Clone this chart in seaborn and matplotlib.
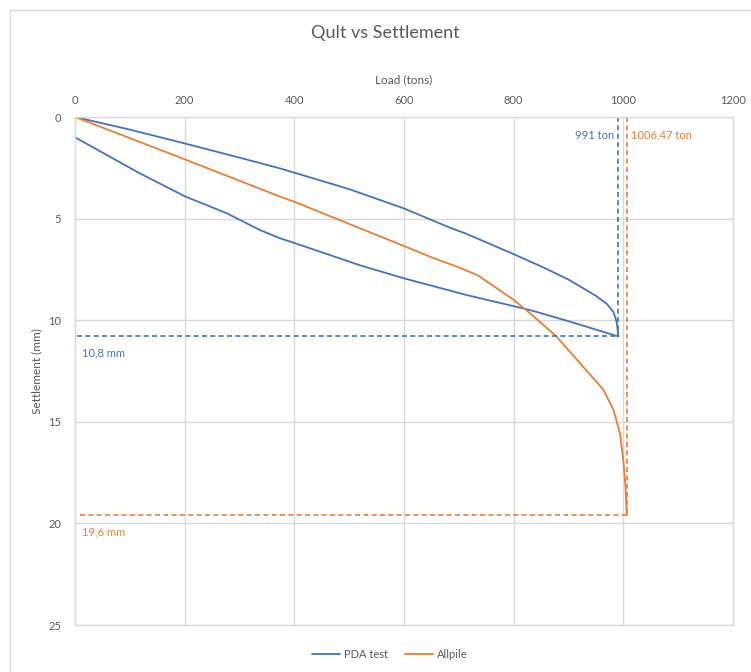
import pandas as pd
import numpy as np
import matplotlib
matplotlib.use("Agg")
import matplotlib.pyplot as plt
import seaborn as sns
from matplotlib.patches import Rectangle

# PDA test: loading branch then unloading branch (load in tons, settlement in mm)
pda_load = [0, 0, 100, 200, 300, 374, 400, 500, 600, 684, 714, 800, 850, 900,
            927, 950, 970, 982, 988, 991,
            900, 830, 714, 600, 520, 400, 374, 337, 277, 200, 118, 0]
pda_settle = [1.0, 0, 0.62, 1.3, 2.0, 2.53, 2.74, 3.55, 4.5, 5.45, 5.75, 6.75, 7.35, 8.0,
              8.43, 8.8, 9.2, 9.6, 10.1, 10.8,
              10.05, 9.5, 8.76, 7.94, 7.3, 6.2, 5.97, 5.56, 4.74, 3.9, 2.77, 1.0]

# Allpile
allpile_load = [0, 200, 374, 400, 520, 600, 650, 700, 735, 765, 800, 830, 878, 927, 963,
                982, 994, 1000, 1004, 1006, 1006.47]
allpile_settle = [0, 2.08, 3.92, 4.17, 5.48, 6.35, 6.9, 7.4, 7.8, 8.35, 9.0, 9.66, 10.8, 12.3,
                  13.4, 14.4, 15.6, 16.9, 18.2, 19.5, 19.6]

pda_qult = 991
pda_s = 10.8
allpile_qult = 1006.47
allpile_s = 19.6

blue = "#4472C4"
orange = "#ED7D31"
grey_txt = "#595959"
grid_c = "#D9D9D9"


def armar_df():
    df1 = pd.DataFrame({"Load": pda_load, "Settlement": pda_settle, "Serie": "PDA test"})
    df2 = pd.DataFrame({"Load": allpile_load, "Settlement": allpile_settle, "Serie": "Allpile"})
    return pd.concat([df1, df2], ignore_index=True)


def main():
    sns.set_style("white")
    plt.rcParams["font.family"] = ["Lato", "DejaVu Sans"]

    df = armar_df()

    fig = plt.figure(figsize=(7.51, 6.72), dpi=100)
    # chart area border
    fig.patches.append(Rectangle((10 / 751, -0.01), 0.99, 1 - 10 / 672 + 0.01,
                                 transform=fig.transFigure, fill=False,
                                 edgecolor=grid_c, linewidth=1))
    ax = fig.add_axes([75 / 751, 1 - 625 / 672, (733 - 75) / 751, (625 - 117) / 672])

    sns.lineplot(data=df, x="Load", y="Settlement", hue="Serie", sort=False,
                 estimator=None, palette=[blue, orange], linewidth=1.3, ax=ax)

    # dashed reference lines
    ax.plot([pda_qult, pda_qult], [0, pda_s], ls=(0, (3, 2)), color=blue, lw=1.2)
    ax.plot([3, pda_qult], [pda_s, pda_s], ls=(0, (3, 2)), color=blue, lw=1.2)
    ax.plot([allpile_qult, allpile_qult], [0, allpile_s], ls=(0, (3, 2)), color=orange, lw=1.2)
    ax.plot([9, allpile_qult], [allpile_s, allpile_s], ls=(0, (3, 2)), color=orange, lw=1.2)

    ax.text(pda_qult - 8, 0.9, f"{pda_qult} ton", color=blue, fontsize=8,
            ha="right", va="center")
    ax.text(allpile_qult + 8, 0.9, "1006,47 ton", color=orange, fontsize=8,
            ha="left", va="center")
    ax.text(12, 11.6, "10,8 mm", color=blue, fontsize=8, ha="left", va="center")
    ax.text(12, 20.4, "19,6 mm", color=orange, fontsize=8, ha="left", va="center")

    ax.set_xlim(0, 1200)
    ax.set_ylim(25, 0)
    ax.set_xticks(np.arange(0, 1201, 200))
    ax.set_yticks(np.arange(0, 26, 5))
    ax.xaxis.tick_top()
    ax.xaxis.set_label_position("top")
    ax.tick_params(length=0, labelsize=8, colors=grey_txt, pad=8)
    ax.tick_params(axis="y", pad=10)
    ax.grid(True, color=grid_c, linewidth=1)
    for s in ax.spines.values():
        s.set_color(grid_c)
        s.set_linewidth(1)

    ax.set_xlabel("Load (tons)", fontsize=8.5, color=grey_txt, labelpad=8)
    ax.set_ylabel("Settlement (mm)", fontsize=8.5, color=grey_txt, labelpad=4)
    fig.text(385 / 751, 1 - 33 / 672, "Qult vs Settlement", fontsize=13,
             color=grey_txt, ha="center", va="center")

    ax.legend(handles=ax.get_legend_handles_labels()[0][:2], labels=["PDA test", "Allpile"],
              loc="center", bbox_to_anchor=(390 / 751, 1 - 654 / 672),
              bbox_transform=fig.transFigure, ncol=2, frameon=False, fontsize=8,
              labelcolor=grey_txt, handlelength=2.5, columnspacing=1.5, handletextpad=0.4)

    fig.savefig("out.png", dpi=100)


if __name__ == "__main__":
    main()
